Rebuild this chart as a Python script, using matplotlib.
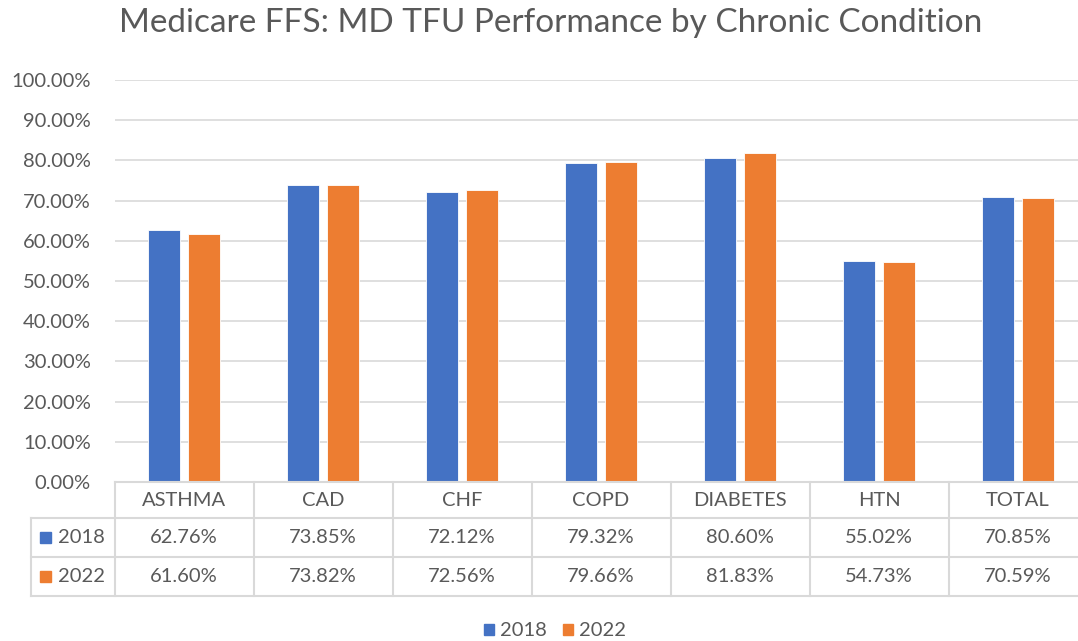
import numpy as np
import matplotlib
matplotlib.use("Agg")
import matplotlib.pyplot as plt
from matplotlib.patches import Rectangle

plt.rcParams['font.family'] = ['Lato', 'DejaVu Sans']

# data
categories = ["ASTHMA", "CAD", "CHF", "COPD", "DIABETES", "HTN", "TOTAL"]
series_names = ["2018", "2022"]
values_2018 = [62.76, 73.85, 72.12, 79.32, 80.60, 55.02, 70.85]
values_2022 = [61.60, 73.82, 72.56, 79.66, 81.83, 54.73, 70.59]
yticks = [0, 10, 20, 30, 40, 50, 60, 70, 80, 90, 100]

blue = "#4472C4"
orange = "#ED7D31"
txt = "#595959"
grid = "#D9D9D9"

W, H = 1078, 641
fig = plt.figure(figsize=(W / 100, H / 100), dpi=100)

# pixel layout
left, right = 114.5, 1087.5
top, bottom = 80, 482
colw = (right - left) / 7
ax = fig.add_axes([left / W, 1 - bottom / H, (right - left) / W, (bottom - top) / H])

x = np.arange(len(categories)) + 0.5
bw = 0.23
off = 0.144
ax.bar(x - off, values_2018, bw, color=blue, edgecolor="white", linewidth=0.6, zorder=3)
ax.bar(x + off, values_2022, bw, color=orange, edgecolor="white", linewidth=0.6, zorder=3)

ax.set_xlim(0, 7)
ax.set_ylim(0, 100)
ax.set_yticks(yticks)
ax.set_yticklabels([f"{v:.2f}%" for v in yticks], color=txt, fontsize=14.5)
ax.set_xticks([])
ax.tick_params(axis="y", length=0, pad=17)
ax.grid(axis="y", color=grid, linewidth=1.2, zorder=0)
for s in ax.spines.values():
    s.set_visible(False)

# data table below the plot
tleft = 31
row_h = [36, 39, 39]
ttop = bottom
tbot = bottom + sum(row_h)
lab_w = (left - tleft) / colw
tax = fig.add_axes([tleft / W, 1 - tbot / H, (right - tleft) / W, (tbot - ttop) / H])
tax.set_xlim(-lab_w, 7)
tax.set_ylim(sum(row_h), 0)
tax.axis("off")
lc = dict(color=grid, linewidth=1.5, clip_on=False)
edges = np.cumsum([0] + row_h)
tax.plot([0, 7], [0, 0], **lc)
for e in edges[1:]:
    tax.plot([-lab_w, 7], [e, e], **lc)
tax.plot([-lab_w, -lab_w], [edges[1], edges[3]], **lc)
for k in range(0, 7):
    tax.plot([k, k], [0, edges[3]], **lc)

mids = [(edges[i] + edges[i + 1]) / 2 for i in range(3)]
for i, c in enumerate(categories):
    tax.text(i + 0.5, mids[0], c, ha="center", va="center", color=txt, fontsize=14.5)
sq = 11 / colw
for r, (name, vals, col) in enumerate([(series_names[0], values_2018, blue),
                                       (series_names[1], values_2022, orange)]):
    y = mids[r + 1]
    tax.add_patch(Rectangle((-lab_w + 9 / colw, y - 5.5), sq, 11, color=col, clip_on=False))
    tax.text(-lab_w + 27 / colw, y, name, ha="left", va="center", color=txt, fontsize=14.5)
    for i, v in enumerate(vals):
        tax.text(i + 0.5, y, f"{v:.2f}%", ha="center", va="center", color=txt, fontsize=14.5)

fig.text(551 / W, 1 - 23 / H, "Medicare FFS: MD TFU Performance by Chronic Condition",
         ha="center", va="center", color=txt, fontsize=24)

# legend
fig.legend(handles=[Rectangle((0, 0), 1, 1, color=blue), Rectangle((0, 0), 1, 1, color=orange)],
           labels=series_names, loc="center", bbox_to_anchor=(555 / W, 1 - 631 / H),
           ncol=2, frameon=False, fontsize=14.5, labelcolor=txt,
           handlelength=0.5, handleheight=0.5, handletextpad=0.3, columnspacing=0.8)

fig.savefig("out.png", dpi=100, facecolor="white")
